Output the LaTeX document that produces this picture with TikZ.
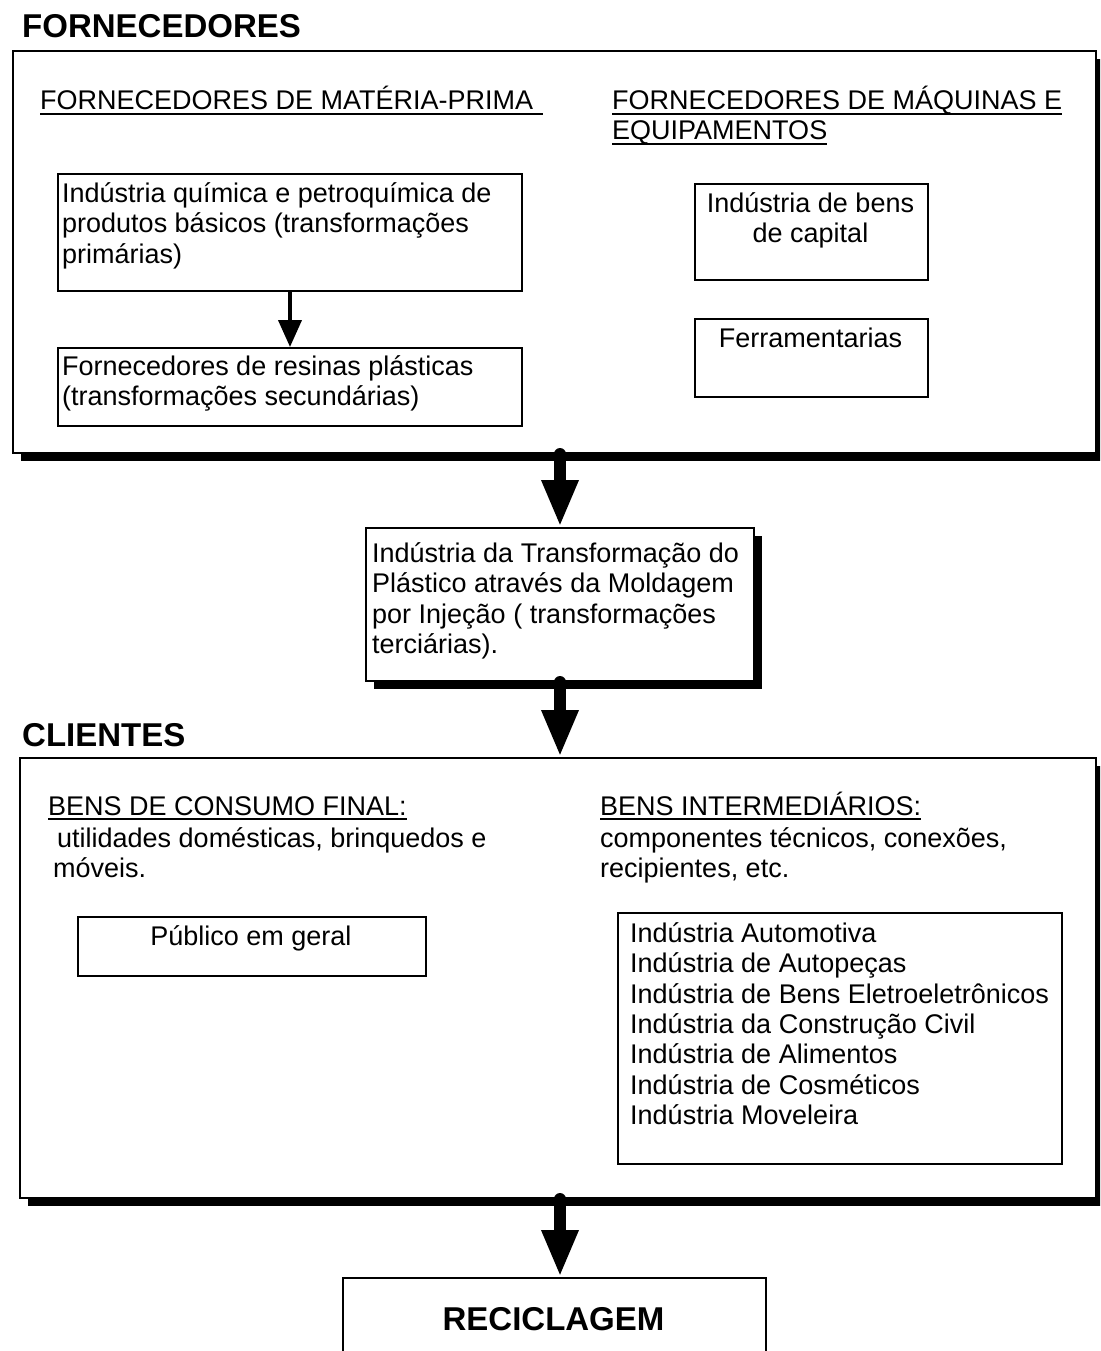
\documentclass[tikz,border=0pt]{standalone}
\usepackage{fontspec}
\setmainfont{Liberation Sans}
\usetikzlibrary{arrows.meta,shadows,calc}
% invisible rule fixing the height of the first line of multi-line texts
\newcommand\capstrut{\rule{0pt}{25pt}}
\begin{document}
\begin{tikzpicture}[x=1pt,y=-1pt,
  frame/.style={draw, line width=2pt, fill=white, anchor=north west, inner sep=0pt},
  shadowed/.style={frame, drop shadow={shadow xshift=8pt, shadow yshift=-8pt, opacity=1, fill=black}},
  body/.style={font=\fontsize{27}{30.4}\selectfont, inner sep=0pt, align=left, anchor=north west},
  head/.style={font=\fontsize{27}{30.4}\selectfont, inner sep=0pt, anchor=base west},
  title/.style={font=\fontsize{33}{36}\selectfont\bfseries, inner sep=0pt, anchor=base west},
  uline/.style={line width=1.8pt},
  bigarrow/.style={line width=12pt, line cap=round, -{Triangle[length=47pt,width=34pt]}},
  smallarrow/.style={line width=4pt, -{Triangle[length=27pt,width=23pt]}}
]
\useasboundingbox (0,0) rectangle (1100,1351);
\clip (0,0) rectangle (1100,1351);

% ---------------- suppliers ----------------
\node[title] (tforn) at (22,38) {FORNECEDORES};
\node[shadowed, minimum width=1083pt, minimum height=402pt] (forn) at (12,50) {};

\node[head] (hmat) at (40,110) {FORNECEDORES DE MATÉRIA-PRIMA\hspace*{10pt}};
\draw[uline] ($(hmat.base west)+(0,4)$) -- ($(hmat.base east)+(0,4)$);
\node[head] (hmaq) at (612,110) {FORNECEDORES DE MÁQUINAS E};
\draw[uline] ($(hmaq.base west)+(0,4)$) -- ($(hmaq.base east)+(0,4)$);
\node[head] (hmaq2) at (612,140) {EQUIPAMENTOS};
\draw[uline] ($(hmaq2.base west)+(0,4)$) -- ($(hmaq2.base east)+(0,4)$);

\node[frame, minimum width=464pt, minimum height=117pt] (qa) at (57,173) {};
\node[body] (qat) at (62,177) {\capstrut Indústria química e petroquímica de\\produtos básicos (transformações\\primárias)};
\node[frame, minimum width=464pt, minimum height=78pt] (qb) at (57,347) {};
\node[body] (qbt) at (62,350) {\capstrut Fornecedores de resinas plásticas\\(transformações secundárias)};
\draw[smallarrow] (qa.south) -- (qb.north);

\node[frame, minimum width=233pt, minimum height=96pt] (bc) at (694,183) {};
\node[body, align=center, anchor=north] (bct) at (810.5,187) {\capstrut Indústria de bens\\de capital};
\node[frame, minimum width=233pt, minimum height=78pt] (fer) at (694,318) {};
\node[head, anchor=base] (fert) at (810.5,347) {Ferramentarias};

% ---------------- injection moulding ----------------
\node[shadowed, minimum width=388pt, minimum height=153pt] (mid) at (365,527) {};
\node[body] (midt) at (372,537) {\capstrut Indústria da Transformação do\\Plástico através da Moldagem\\por Injeção ( transformações\\terciárias).};

% ---------------- customers ----------------
\node[title] (tcli) at (22,746) {CLIENTES};
\node[shadowed, minimum width=1076pt, minimum height=440pt] (cli) at (19,757) {};

\node[head] (hcons) at (48,815) {BENS DE CONSUMO FINAL:};
\draw[uline] ($(hcons.base west)+(0,4)$) -- ($(hcons.base east)+(0,4)$);
\node[body] (const) at (53,822) {\capstrut\hspace*{4pt}utilidades domésticas, brinquedos e\\móveis.};
\node[head] (hint) at (600,815) {BENS INTERMEDIÁRIOS:};
\draw[uline] ($(hint.base west)+(0,4)$) -- ($(hint.base east)+(0,4)$);
\node[body] (intt) at (600,822) {\capstrut componentes técnicos, conexões,\\recipientes, etc.};

\node[frame, minimum width=348pt, minimum height=59pt] (pub) at (77,916) {};
\node[head, anchor=base] (pubt) at (251,945) {Público em geral};

\node[frame, minimum width=444pt, minimum height=251pt] (ind) at (617,912) {};
\node[body] (indt) at (630,917) {\capstrut Indústria Automotiva\\Indústria de Autopeças\\Indústria de Bens Eletroeletrônicos\\Indústria da Construção Civil\\Indústria de Alimentos\\Indústria de Cosméticos\\Indústria Moveleira};

% ---------------- recycling ----------------
\node[frame, minimum width=423pt, minimum height=110pt] (rec) at (342,1277) {};
\node[title, anchor=base] (rect) at (553.5,1330) {RECICLAGEM};

% ---------------- main flow ----------------
\draw[bigarrow] (forn.south -| mid.north) -- (mid.north);
\draw[bigarrow] (mid.south) -- (cli.north -| mid.south);
\draw[bigarrow] (cli.south -| mid.south) -- (rec.north -| mid.south);
\end{tikzpicture}
\end{document}
